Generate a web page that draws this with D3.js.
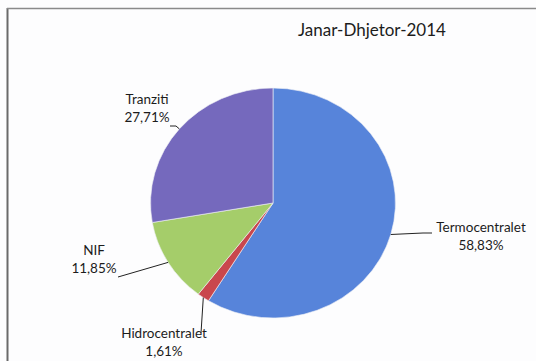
<!DOCTYPE html>
<html>
<head>
<meta charset="utf-8">
<script src="https://cdn.jsdelivr.net/npm/d3@7"></script>
<style>
  body { margin: 0; background: #fff; }
  svg { display: block; }
  text { font-family: Lato, "Open Sans", sans-serif; fill: #1c1c1c; }
</style>
</head>
<body>
<svg width="536" height="361"></svg>
<script>
// data
var title = "Janar-Dhjetor-2014";
var categories = ["Termocentralet", "Hidrocentralet", "NIF", "Tranziti"];
var percents = [58.83, 1.61, 11.85, 27.71];
var valueLabels = ["58,83%", "1,61%", "11,85%", "27,71%"];
var colors = ["#5784da", "#c9474d", "#a5cd6a", "#7569bd"];

// where each label sits relative to the pie center (layout only)
var labelPos = [
  { dx: 208, dy: 29, elbow: [150, 30], end: [159, 30] },
  { dx: -109, dy: 135, elbow: [-72, 130], end: [-72, 130] },
  { dx: -179, dy: 52, elbow: [-155, 74], end: [-155, 74] },
  { dx: -126, dy: -99, elbow: [-97, -77], end: [-103, -77] }
];

var svg = d3.select("svg");
var width = +svg.attr("width");
var height = +svg.attr("height");

var cx = 273, cy = 203;
var r = 115, sx = 1.065; // scanned picture is a bit stretched sideways

svg.append("rect")
  .attr("width", width).attr("height", height)
  .attr("fill", "#fdfdfe");

// frame: only left and top edges show in the scan
svg.append("line")
  .attr("x1", 7.5).attr("y1", 8).attr("x2", 7.5).attr("y2", height)
  .attr("stroke", "#6a6a6a").attr("stroke-width", 2);
svg.append("line")
  .attr("x1", 7).attr("y1", 8.5).attr("x2", width).attr("y2", 8.5)
  .attr("stroke", "#8a8a8a").attr("stroke-width", 1.5);

svg.append("text")
  .attr("x", 372).attr("y", 36)
  .attr("text-anchor", "middle")
  .style("font-size", "17px")
  .text(title);

var pie = d3.pie().sort(null).value(d => d);
var arcs = pie(percents);
var arc = d3.arc().innerRadius(0).outerRadius(r);

var g = svg.append("g")
  .attr("transform", "translate(" + cx + "," + cy + ") scale(" + sx + ",1)");

g.selectAll("path")
  .data(arcs)
  .enter()
  .append("path")
  .attr("d", arc)
  .attr("fill", (d, i) => colors[i])
  .attr("stroke", "#eef0f6")
  .attr("stroke-width", 0.6);

// leader lines and labels
var lab = svg.append("g")
  .attr("transform", "translate(" + cx + "," + cy + ")");

arcs.forEach(function (d, i) {
  var a = (d.startAngle + d.endAngle) / 2;
  var p0 = [Math.sin(a) * r * sx, -Math.cos(a) * r];
  var lp = labelPos[i];
  lab.append("polyline")
    .attr("points", [p0, lp.elbow, lp.end].map(p => p.join(",")).join(" "))
    .attr("fill", "none")
    .attr("stroke", "#222")
    .attr("stroke-width", 1);

  var t = lab.append("text")
    .attr("x", lp.dx).attr("y", lp.dy)
    .attr("text-anchor", "middle")
    .style("font-size", "13.5px");
  t.append("tspan").attr("x", lp.dx).attr("dy", 0).text(categories[i]);
  t.append("tspan").attr("x", lp.dx).attr("dy", 18).text(valueLabels[i]);
});
</script>
</body>
</html>
